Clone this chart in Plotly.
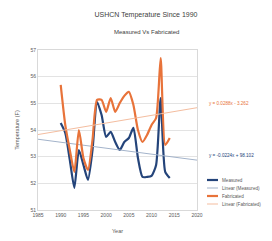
import numpy as np
import plotly.graph_objects as go

years = list(range(1990, 2015))
measured = [54.26, 53.89, 52.88, 51.83, 53.25, 52.69, 52.13, 53.25, 55.05, 54.56,
            53.74, 53.93, 53.55, 53.25, 53.55, 53.70, 54.08, 52.95, 52.24, 52.24,
            52.28, 52.69, 55.20, 52.43, 52.20]
fabricated = [55.69, 54.19, 53.25, 52.43, 54.00, 52.95, 52.50, 53.63, 55.13, 55.13,
              54.68, 55.20, 54.68, 55.01, 55.28, 55.43, 54.94, 54.00, 53.55, 53.81,
              54.19, 54.45, 56.70, 53.44, 53.70]
x_ticks = [1985, 1990, 1995, 2000, 2005, 2010, 2015, 2020]
y_ticks = [51, 52, 53, 54, 55, 56, 57]

title = "USHCN Temperature Since 1990"
subtitle = "Measured Vs Fabricated"
series_names = ["Measured", "Linear (Measured)", "Fabricated", "Linear (Fabricated)"]

blue = "#24447a"
orange = "#e8733a"
blue_trend = "#a3b3ca"
orange_trend = "#f4bd9f"
colors = [blue, blue_trend, orange, orange_trend]
widths = [2.2, 1, 2.2, 1]

W, H = 272, 241
L, R, T, B = 38, 75, 50, 31
pw, ph = W - L - R, H - T - B

def px(xp):
    return (xp - L) / pw

def py(yp):
    return (H - B - yp) / ph

xr = np.array([x_ticks[0], x_ticks[-1]], dtype=float)
mb, cb = np.polyfit(years, measured, 1)
mo, co = np.polyfit(years, fabricated, 1)

fig = go.Figure()
fig.add_trace(go.Scatter(x=years, y=measured, mode="lines", name=series_names[0],
                         line=dict(color=blue, width=2.2, shape="spline", smoothing=0.6)))
fig.add_trace(go.Scatter(x=xr, y=mb * xr + cb, mode="lines", name=series_names[1],
                         line=dict(color=blue_trend, width=1)))
fig.add_trace(go.Scatter(x=years, y=fabricated, mode="lines", name=series_names[2],
                         line=dict(color=orange, width=2.2, shape="spline", smoothing=0.6)))
fig.add_trace(go.Scatter(x=xr, y=mo * xr + co, mode="lines", name=series_names[3],
                         line=dict(color=orange_trend, width=1)))

def eq(m, c):
    sign = "+" if c >= 0 else "-"
    return f"y = {m:.4f}x {sign} {abs(c):.3f}"

fig.add_annotation(x=px(207), y=py(103), xref="paper", yref="paper", text=eq(mo, co),
                   showarrow=False, font=dict(size=4.6, color=orange), xanchor="left", yanchor="middle")
fig.add_annotation(x=px(207), y=py(155), xref="paper", yref="paper", text=eq(mb, cb),
                   showarrow=False, font=dict(size=4.6, color=blue), xanchor="left", yanchor="middle")

# subtitle
fig.add_annotation(x=px(146), y=py(32), xref="paper", yref="paper", text=subtitle,
                   showarrow=False, font=dict(size=6, color="#404040"), xanchor="center", yanchor="middle")

# compact legend
for i, (nm, c, w) in enumerate(zip(series_names, colors, widths)):
    yy = 180 + 8 * i
    fig.add_shape(type="line", xref="paper", yref="paper", x0=px(207), x1=px(218),
                  y0=py(yy), y1=py(yy), line=dict(color=c, width=w))
    fig.add_annotation(x=px(220), y=py(yy), xref="paper", yref="paper", text=nm,
                       showarrow=False, font=dict(size=4.6, color="#595959"),
                       xanchor="left", yanchor="middle")

fig.update_layout(
    width=W, height=H,
    margin=dict(l=L, r=R, t=T, b=B, autoexpand=False),
    paper_bgcolor="white", plot_bgcolor="white",
    font=dict(family="Liberation Sans, Arial, sans-serif", size=5, color="#595959"),
    title=dict(text=title, x=146 / W, xanchor="center", y=1 - 15 / H, yanchor="middle",
               font=dict(size=7, color="#404040")),
    showlegend=False,
    xaxis=dict(range=[x_ticks[0], x_ticks[-1]], tickvals=x_ticks, showgrid=False,
               showline=True, linecolor="#d9d9d9", mirror=True, zeroline=False,
               ticks="", tickfont=dict(size=5), title=dict(text="Year", font=dict(size=5.5), standoff=12)),
    yaxis=dict(range=[y_ticks[0], y_ticks[-1]], tickvals=y_ticks, showgrid=True,
               gridcolor="#e3e3e3", gridwidth=1, showline=True, linecolor="#d9d9d9", mirror=True,
               zeroline=False, ticks="", tickfont=dict(size=5),
               title=dict(text="Temperature (F)", font=dict(size=5.5), standoff=10)),
)

fig.write_html("out.html", config={"displayModeBar": False},
               post_script="document.body.style.margin='0';")
